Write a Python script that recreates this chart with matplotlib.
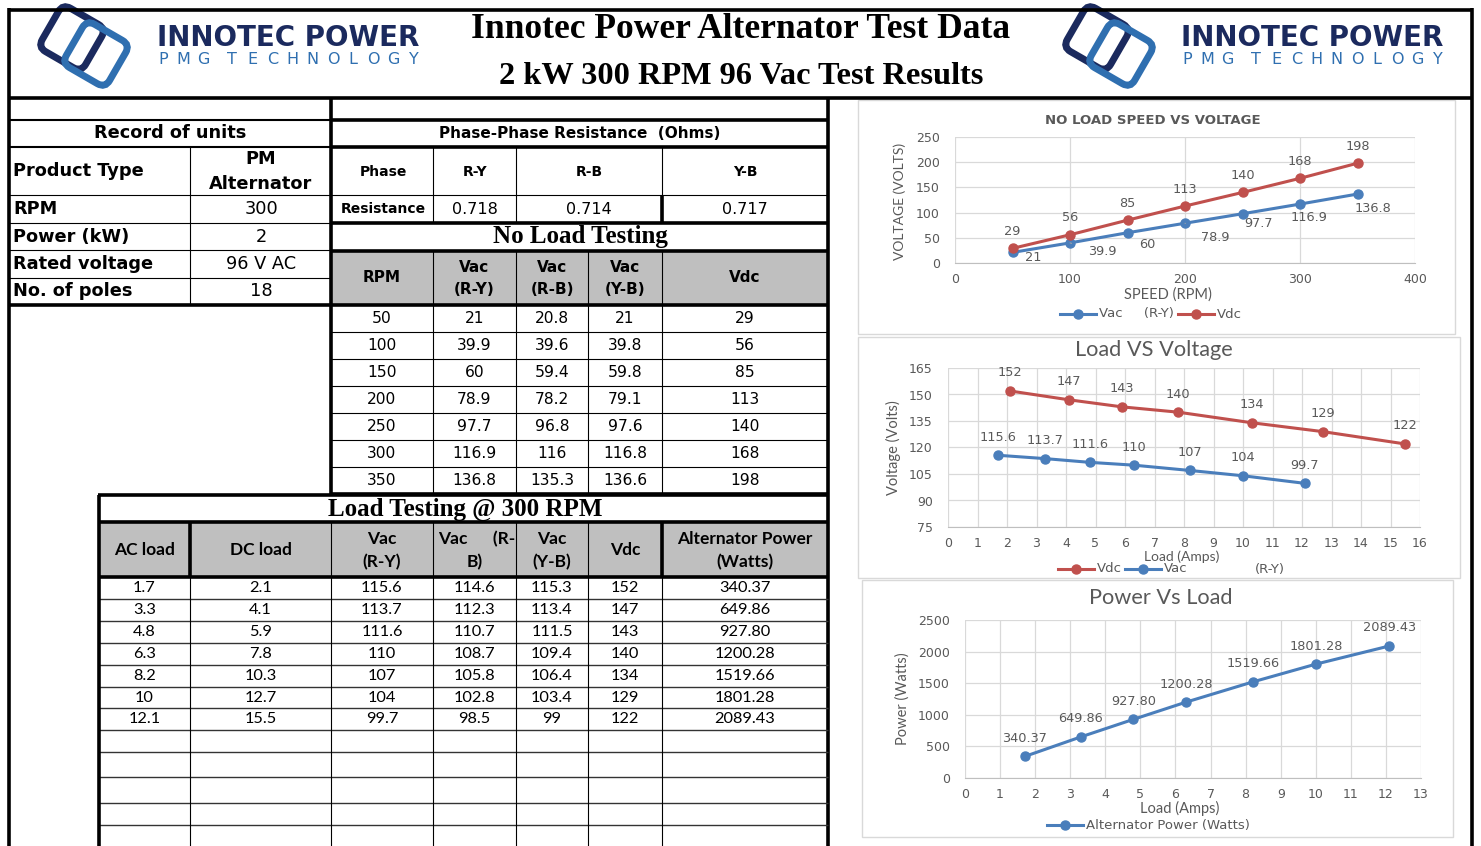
import numpy as np
import matplotlib
matplotlib.use("Agg")
import matplotlib.pyplot as plt
from matplotlib.patches import Rectangle, FancyBboxPatch
import matplotlib.transforms as mtransforms

W, H = 1481, 846

# ---------------- data ----------------
unit_fields = ["Product Type", "RPM", "Power (kW)", "Rated voltage", "No. of poles"]
unit_values = ["PM\nAlternator", "300", "2", "96 V AC", "18"]

phases = ["R-Y", "R-B", "Y-B"]
resistance = ["0.718", "0.714", "0.717"]

rpm = [50, 100, 150, 200, 250, 300, 350]
nl_vac_ry = [21, 39.9, 60, 78.9, 97.7, 116.9, 136.8]
nl_vac_rb = [20.8, 39.6, 59.4, 78.2, 96.8, 116, 135.3]
nl_vac_yb = [21, 39.8, 59.8, 79.1, 97.6, 116.8, 136.6]
nl_vdc = [29, 56, 85, 113, 140, 168, 198]

ac_load = [1.7, 3.3, 4.8, 6.3, 8.2, 10, 12.1]
dc_load = [2.1, 4.1, 5.9, 7.8, 10.3, 12.7, 15.5]
ld_vac_ry = [115.6, 113.7, 111.6, 110, 107, 104, 99.7]
ld_vac_rb = [114.6, 112.3, 110.7, 108.7, 105.8, 102.8, 98.5]
ld_vac_yb = [115.3, 113.4, 111.5, 109.4, 106.4, 103.4, 99]
ld_vdc = [152, 147, 143, 140, 134, 129, 122]
alt_power = [340.37, 649.86, 927.80, 1200.28, 1519.66, 1801.28, 2089.43]

# ---------------- style ----------------
NAVY = "#1b2a5e"
LOGO_BLUE = "#2f6fb0"
BLUE = "#4a7ebb"
RED = "#c0504d"
GTXT = "#595959"
GRID = "#d9d9d9"
HDR = "#bfbfbf"
SERIF = "Liberation Serif"
VERD = "DejaVu Sans"
CALI = "Lato"
THICK = 2.6
THIN = 0.8

fig = plt.figure(figsize=(W / 100, H / 100), dpi=100)
bg = fig.add_axes([0, 0, 1, 1])
bg.set_xlim(0, W)
bg.set_ylim(H, 0)
bg.axis("off")


def hline(y, x0, x1, lw=THIN, color="black"):
    bg.plot([x0, x1], [y, y], color=color, lw=lw, solid_capstyle="butt")


def vline(x, y0, y1, lw=THIN, color="black"):
    bg.plot([x, x], [y0, y1], color=color, lw=lw, solid_capstyle="butt")


def txt(x, y, s, size=10, weight="normal", family=VERD, ha="center", color="black", **kw):
    bg.text(x, y, s, fontsize=size, fontweight=weight, family=family, ha=ha, va="center",
            color=color, **kw)


def fill(x0, y0, x1, y1, color=HDR):
    bg.add_patch(Rectangle((x0, y0), x1 - x0, y1 - y0, facecolor=color, edgecolor="none", zorder=0))


# ---------------- header ----------------
def logo(cx, cy):
    for dx, dy, col in [(-12, -8, NAVY), (12, 8, LOGO_BLUE)]:
        p = FancyBboxPatch((cx + dx - 25, cy + dy - 25), 50, 50,
                           boxstyle="round,pad=0,rounding_size=9",
                           facecolor="none", edgecolor=col, lw=5)
        tr = mtransforms.Affine2D().rotate_deg_around(cx + dx, cy + dy, 30) + bg.transData
        p.set_transform(tr)
        bg.add_patch(p)


def brand(x0, x1):
    txt(x0, 38, "INNOTEC POWER", size=20, weight="bold", ha="left", color=NAVY)
    s = "PMG TECHNOLOGY"
    steps = [0.0]
    for a, b in zip(s[:-1], s[1:]):
        if a == " ":
            continue
        steps.append(steps[-1] + (1.4 if b == " " else 1.0))
    chars = [c for c in s if c != " "]
    xs = x0 + 6 + (x1 - x0 - 14) * np.array(steps) / steps[-1]
    for ch, xx in zip(chars, xs):
        txt(xx, 59, ch, size=11.5, color=LOGO_BLUE)


logo(84, 46)
brand(157, 422)
logo(1109, 46)
brand(1181, 1446)

txt(741, 30, "Innotec Power Alternator Test Data", size=25.5, weight="bold", family=SERIF)
txt(741, 76, "2 kW 300 RPM 96 Vac Test Results", size=23.3, weight="bold", family=SERIF)

# outer frame
hline(10, 8, 1473, lw=THICK)
hline(98, 8, 1473, lw=THICK)
vline(9, 8, 846, lw=THICK)
vline(1472, 8, 846, lw=THICK)

# ---------------- record of units ----------------
rows_u = [147, 195, 223, 250, 278, 305]
hline(120, 9, 331, lw=1.5)
hline(147, 9, 331, lw=1.5)
for y in rows_u[1:-1]:
    hline(y, 9, 331)
hline(305, 9, 331, lw=THICK)
vline(190, 147, 305)
txt(170, 133, "Record of units", size=12.8, weight="bold")
for i, (f, v) in enumerate(zip(unit_fields, unit_values)):
    yc = (rows_u[i] + rows_u[i + 1]) / 2
    txt(13, yc, f, size=12.8, weight="bold", ha="left")
    if "\n" in v:
        a, b = v.split("\n")
        txt(261, yc - 12, a, size=12.8, weight="bold")
        txt(261, yc + 13, b, size=12.8, weight="bold")
    else:
        txt(261, yc, v, size=12.8)

# ---------------- phase resistance + no load ----------------
XM0, XM1 = 331, 828
col_nl = [331, 433, 516, 588, 662, 828]
fill(XM0, 251, XM1, 305)
for y in [120, 147, 223, 251, 305, 494]:
    hline(y, XM0, XM1, lw=THICK)
hline(195, XM0, XM1)
nl_rows = [305 + 27 * k for k in range(8)]
for y in nl_rows[1:-1]:
    hline(y, XM0, XM1)
for x in [433, 516, 662]:
    vline(x, 147, 223)
    vline(x, 251, 494)
vline(662, 195, 223, lw=THICK)
vline(588, 251, 494)
vline(XM0, 98, 495, lw=THICK)
vline(XM1, 98, 846, lw=THICK)

txt(580, 133, "Phase-Phase Resistance  (Ohms)", size=11, weight="bold")
txt(383, 172, "Phase", size=10, weight="bold")
txt(383, 209, "Resistance", size=10, weight="bold")
res_x = [475, 589, 745]
for x, ph, r in zip(res_x, phases, resistance):
    txt(x, 172, ph, size=10, weight="bold")
    txt(x, 209, r, size=11.5)

txt(580, 237, "No Load Testing", size=18, weight="bold", family=SERIF)
nl_hdr = ["RPM", "Vac\n(R-Y)", "Vac\n(R-B)", "Vac\n(Y-B)", "Vdc"]
nl_cols = [rpm, nl_vac_ry, nl_vac_rb, nl_vac_yb, nl_vdc]
for j, h in enumerate(nl_hdr):
    xc = (col_nl[j] + col_nl[j + 1]) / 2
    if "\n" in h:
        a, b = h.split("\n")
        txt(xc, 267, a, size=11, weight="bold")
        txt(xc, 290, b, size=11, weight="bold")
    else:
        txt(xc, 278, h, size=11, weight="bold")
    for i, v in enumerate(nl_cols[j]):
        txt(xc, (nl_rows[i] + nl_rows[i + 1]) / 2, f"{v:g}", size=11.2)

# ---------------- load testing ----------------
XL0 = 99
col_ld = [99, 190, 331, 433, 516, 588, 662, 828]
fill(XL0, 522, XM1, 577)
hline(495, XL0 - 1, XM1, lw=THICK)
hline(522, XL0, XM1, lw=THICK)
hline(577, XL0, XM1, lw=THICK)
ld_rows = [577, 599, 621, 643, 665, 687, 708, 730, 752, 777, 803, 825]
for y in ld_rows[1:]:
    hline(y, XL0, XM1, lw=1.0, color="#333333")
vline(XL0, 495, 846, lw=THICK)
for x in col_ld[1:-1]:
    vline(x, 522, 846)
vline(190, 522, 577, lw=THICK)
vline(662, 522, 577, lw=THICK)

txt(465, 509, "Load Testing @ 300 RPM", size=18, weight="bold", family=SERIF)
ld_hdr = ["AC load", "DC load", "Vac\n(R-Y)", None, "Vac\n(Y-B)", "Vdc", "Alternator Power\n(Watts)"]
ld_cols = [ac_load, dc_load, ld_vac_ry, ld_vac_rb, ld_vac_yb, ld_vdc,
           [f"{p:.2f}" for p in alt_power]]
for j, h in enumerate(ld_hdr):
    xc = (col_ld[j] + col_ld[j + 1]) / 2
    if h is None:
        txt(col_ld[j] + 5, 539, "Vac      (R-", size=12.5, weight="bold", family=CALI, ha="left")
        txt(xc, 562, "B)", size=12.5, weight="bold", family=CALI)
    elif "\n" in h:
        a, b = h.split("\n")
        txt(xc, 539, a, size=12.5, weight="bold", family=CALI)
        txt(xc, 562, b, size=12.5, weight="bold", family=CALI)
    else:
        txt(xc, 550, h, size=12.5, weight="bold", family=CALI)
    for i, v in enumerate(ld_cols[j]):
        s = v if isinstance(v, str) else f"{v:g}"
        txt(xc, (ld_rows[i] + ld_rows[i + 1]) / 2, s, size=11.8, family=CALI)


# ---------------- charts ----------------
def chart(box, area, xlim, xstep, ylim, ystep):
    bx0, by0, bx1, by1 = box
    bg.add_patch(Rectangle((bx0, by0), bx1 - bx0, by1 - by0, facecolor="white",
                           edgecolor=GRID, lw=1.0, zorder=1))
    x0, y0, x1, y1 = area
    ax = fig.add_axes([x0 / W, 1 - y1 / H, (x1 - x0) / W, (y1 - y0) / H])
    ax.set_xlim(*xlim)
    ax.set_ylim(*ylim)
    ax.set_xticks(np.arange(xlim[0], xlim[1] + xstep / 2, xstep))
    ax.set_yticks(np.arange(ylim[0], ylim[1] + ystep / 2, ystep))
    for s in ["top", "right", "left"]:
        ax.spines[s].set_visible(False)
    ax.spines["bottom"].set_color("#bfbfbf")
    ax.grid(True, color=GRID, lw=0.9)
    ax.set_axisbelow(True)
    ax.tick_params(length=0, labelsize=9, colors=GTXT)
    ax.tick_params(axis="y", pad=11)
    ax.tick_params(axis="x", pad=7)
    for lab in ax.get_xticklabels() + ax.get_yticklabels():
        lab.set_family(VERD)
    ax.patch.set_alpha(0)
    ax.set_zorder(3)
    return ax


def legend_item(x, y, color, label, text_size=9.5):
    bg.plot([x, x + 36], [y, y], color=color, lw=2.2, zorder=5)
    bg.plot([x + 18], [y], "o", color=color, ms=6.5, zorder=5)
    txt(x + 39, y, label, size=text_size, ha="left", color=GTXT, zorder=5)


LINE = dict(lw=2.2, marker="o", ms=6.5)
LBL = 9.3

# chart 1 : no load speed vs voltage
ax1 = chart((858, 100, 1455, 334), (955, 137, 1415, 263), (0, 400), 100, (0, 250), 50)
ax1.plot(rpm, nl_vac_ry, color=BLUE, **LINE)
ax1.plot(rpm, nl_vdc, color=RED, **LINE)
for x, v in zip(rpm, nl_vdc):
    ax1.annotate(f"{v:g}", (x, v), xytext=(0, 17), textcoords="offset pixels",
                 ha="center", va="center", fontsize=LBL, color=GTXT)
vac_off = [(21, -5), (32, -9), (20, -12), (30, -14), (16, -10), (9, -13), (15, -14)]
for k, (x, v) in enumerate(zip(rpm, nl_vac_ry)):
    arrow = dict(arrowstyle="-", color="#a6a6a6", lw=0.7, shrinkA=10, shrinkB=3) if k in (1, 3) else None
    ax1.annotate(f"{v:g}", (x, v), xytext=vac_off[k], textcoords="offset pixels",
                 ha="center", va="center", fontsize=LBL, color=GTXT, arrowprops=arrow)
txt(1153, 121, "NO LOAD SPEED VS VOLTAGE", size=9.5, weight="bold", color=GTXT)
txt(900, 201, "VOLTAGE (VOLTS)", size=10, family=CALI, color=GTXT, rotation=90, zorder=4)
txt(1168, 295, "SPEED (RPM)", size=10.5, family=CALI, color=GTXT, zorder=4)
legend_item(1060, 314, BLUE, "Vac     (R-Y)")
legend_item(1178, 314, RED, "Vdc")

# chart 2 : load vs voltage
ax2 = chart((858, 337, 1460, 578), (948, 368, 1420, 527), (0, 16), 1, (75, 165), 15)
ax2.plot(dc_load, ld_vdc, color=RED, **LINE)
ax2.plot(ac_load, ld_vac_ry, color=BLUE, **LINE)
for xs, ys in [(dc_load, ld_vdc), (ac_load, ld_vac_ry)]:
    for x, v in zip(xs, ys):
        ax2.annotate(f"{v:g}", (x, v), xytext=(0, 18), textcoords="offset pixels",
                     ha="center", va="center", fontsize=LBL, color=GTXT)
txt(1154, 350, "Load VS Voltage", size=15.7, family=CALI, color=GTXT)
txt(893, 448, "Voltage (Volts)", size=10.5, family=CALI, color=GTXT, rotation=90, zorder=4)
txt(1182, 557, "Load (Amps)", size=10, family=CALI, color=GTXT, zorder=4)
legend_item(1058, 569, RED, "Vdc")
legend_item(1125, 569, BLUE, "Vac")
txt(1255, 569, "(R-Y)", size=9.5, ha="left", color=GTXT, zorder=5)

# chart 3 : power vs load
ax3 = chart((862, 580, 1453, 837), (965, 620, 1421, 778), (0, 13), 1, (0, 2500), 500)
ax3.plot(ac_load, alt_power, color=BLUE, **LINE)
for x, v in zip(ac_load, alt_power):
    ax3.annotate(f"{v:.2f}", (x, v), xytext=(0, 18), textcoords="offset pixels",
                 ha="center", va="center", fontsize=LBL, color=GTXT)
txt(1161, 598, "Power Vs Load", size=15.7, family=CALI, color=GTXT)
txt(903, 699, "Power (Watts)", size=10.5, family=CALI, color=GTXT, rotation=90, zorder=4)
txt(1180, 808, "Load (Amps)", size=10.5, family=CALI, color=GTXT, zorder=4)
legend_item(1047, 825, BLUE, "Alternator Power (Watts)")

fig.savefig("out.png", dpi=100)
plt.close(fig)
